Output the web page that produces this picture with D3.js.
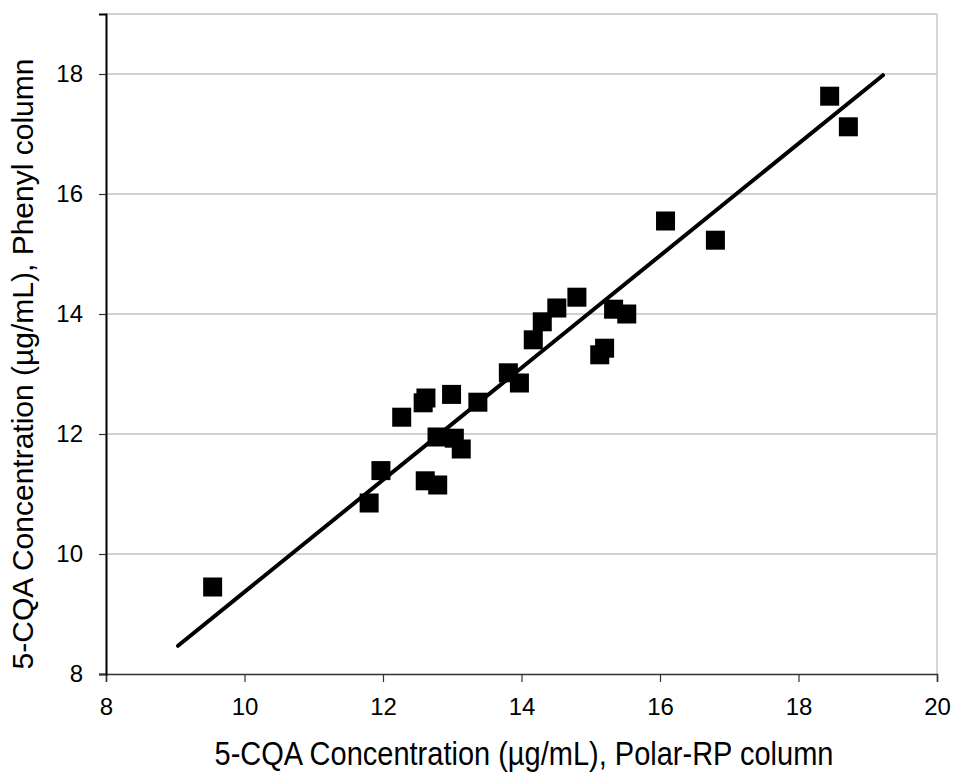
<!DOCTYPE html>
<html lang="en">

<head>
  <meta charset="utf-8">
  <title> 5-CQA comparison </title>
  <script src="https://d3js.org/d3.v7.min.js"> </script>
  <style>
    body {
      margin: 0;
      background: #fff;
      font-family: "Liberation Sans", Arial, sans-serif;
    }
  </style>
</head>

<body>
  <script>
    // Measured concentrations (x: Polar-RP column, y: Phenyl column)
    var polarRP = [9.54, 11.80, 11.97, 12.27, 12.58, 12.62, 12.61, 12.79, 12.78, 12.99,
      13.03, 13.13, 13.37, 13.81, 13.97, 14.17, 14.30, 14.51, 14.80, 15.13,
      15.20, 15.33, 15.52, 16.08, 16.80, 18.45, 18.72];
    var phenyl = [9.45, 10.85, 11.39, 12.28, 12.52, 12.60, 11.22, 11.15, 11.95, 12.66,
      11.93, 11.75, 12.53, 13.02, 12.85, 13.57, 13.87, 14.10, 14.28, 13.32,
      13.43, 14.08, 14.00, 15.55, 15.23, 17.63, 17.12];

    // Trend line end points
    var trendX = [9.04, 19.22];
    var trendY = [8.47, 17.98];

    var xTicks = [8, 10, 12, 14, 16, 18, 20];
    var yTicks = [8, 10, 12, 14, 16, 18];

    var xTitle = "5-CQA Concentration (µg/mL),  Polar-RP column";
    var yTitle = "5-CQA Concentration (µg/mL),  Phenyl column";

    var width = 954,
      height = 774;
    var margin = {
      left: 106,
      right: 17,
      top: 14,
      bottom: 100
    };

    var svg = d3.select("body")
      .append("svg")
      .attr("width", width)
      .attr("height", height);

    var x = d3.scaleLinear()
      .domain([8, 20])
      .range([margin.left, width - margin.right]);

    var y = d3.scaleLinear()
      .domain([8, 19])
      .range([height - margin.bottom, margin.top]);

    // horizontal grid lines
    svg.append("g")
      .selectAll("line")
      .data(yTicks.slice(1).concat([19]))
      .enter().append("line")
      .attr("x1", x(8))
      .attr("x2", x(20))
      .attr("y1", function(d) { return y(d); })
      .attr("y2", function(d) { return y(d); })
      .attr("stroke", "#c0c0c0")
      .attr("stroke-width", 1.3);

    // right border of plot area
    svg.append("line")
      .attr("x1", x(20))
      .attr("x2", x(20))
      .attr("y1", y(19))
      .attr("y2", y(8))
      .attr("stroke", "#c0c0c0")
      .attr("stroke-width", 1.3);

    // x axis
    var xAxis = svg.append("g")
      .attr("transform", "translate(0," + y(8) + ")")
      .call(d3.axisBottom(x).tickValues(xTicks).tickSize(8).tickPadding(16))
      .attr("font-size", 24)
      .attr("font-family", "Liberation Sans, Arial, sans-serif");

    // y axis
    var yAxis = svg.append("g")
      .attr("transform", "translate(" + x(8) + ",0)")
      .call(d3.axisLeft(y).tickValues(yTicks).tickSize(7).tickPadding(16))
      .attr("font-size", 24)
      .attr("font-family", "Liberation Sans, Arial, sans-serif");

    xAxis.select(".domain").attr("stroke", "#333").attr("stroke-width", 1.6);
    yAxis.select(".domain").attr("stroke", "#000").attr("stroke-width", 2);
    xAxis.selectAll(".tick line").attr("stroke", "#333").attr("stroke-width", 1.2);
    yAxis.selectAll(".tick line").attr("stroke", "#333").attr("stroke-width", 1.2);
    svg.selectAll(".tick text")
      .attr("fill", "#000")
      .attr("font-size", 24);

    // trend line
    svg.append("line")
      .attr("x1", x(trendX[0]))
      .attr("y1", y(trendY[0]))
      .attr("x2", x(trendX[1]))
      .attr("y2", y(trendY[1]))
      .attr("stroke", "#000")
      .attr("stroke-width", 4)
      .attr("stroke-linecap", "round");

    // square markers
    var size = 19;
    svg.append("g")
      .selectAll("rect")
      .data(polarRP)
      .enter().append("rect")
      .attr("x", function(d) { return x(d) - size / 2; })
      .attr("y", function(d, i) { return y(phenyl[i]) - size / 2; })
      .attr("width", size)
      .attr("height", size)
      .attr("fill", "#000");

    // axis titles (the source text is a little taller than wide)
    svg.append("text")
      .attr("transform", "translate(524,765) scale(1,1.15)")
      .attr("text-anchor", "middle")
      .style("font-size", "29px")
      .text(xTitle);

    svg.append("text")
      .attr("transform", "translate(33,364) rotate(-90)")
      .attr("text-anchor", "middle")
      .style("font-size", "30px")
      .text(yTitle);
  </script>
</body>

</html>
